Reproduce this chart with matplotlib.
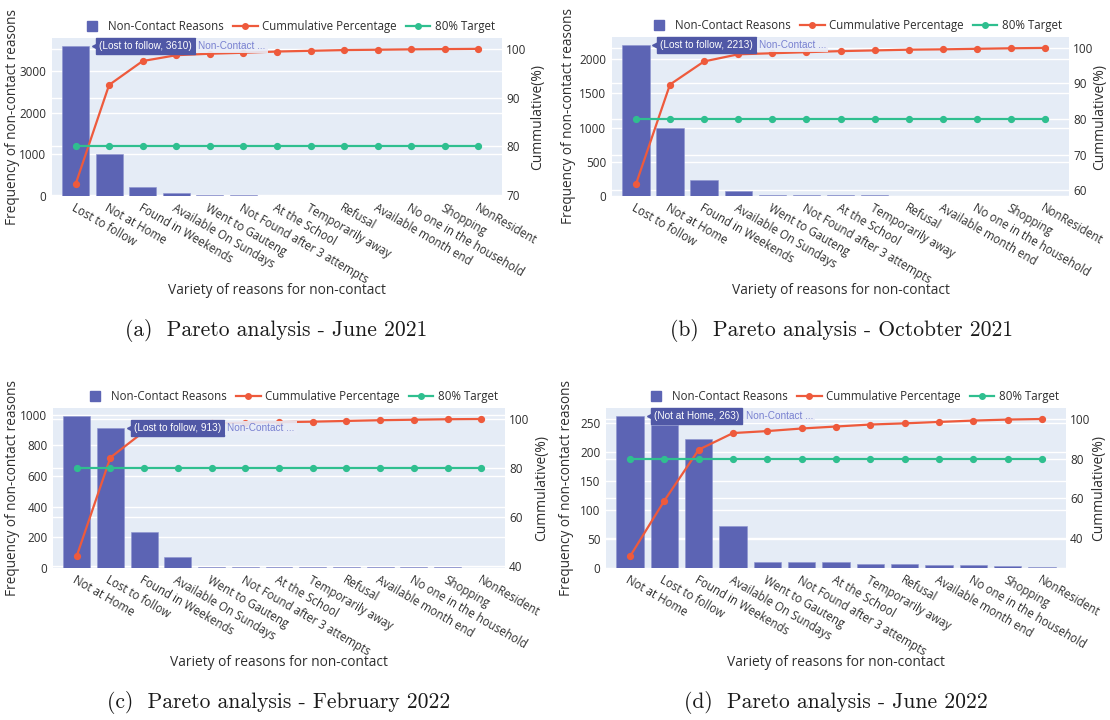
import matplotlib
matplotlib.use('Agg')
import matplotlib.pyplot as plt
import matplotlib.transforms as mtransforms
from matplotlib.lines import Line2D
from matplotlib.ticker import MultipleLocator

# categories (order as drawn on each x axis)
reasons_2021 = ['Lost to follow', 'Not at Home', 'Found in Weekends', 'Available On Sundays',
                'Went to Gauteng', 'Not Found after 3 attempts', 'At the School',
                'Temporarily away', 'Refusal', 'Available month end',
                'No one in the household', 'Shopping', 'NonResident']
reasons_2022 = ['Not at Home', 'Lost to follow', 'Found in Weekends', 'Available On Sundays',
                'Went to Gauteng', 'Not Found after 3 attempts', 'At the School',
                'Temporarily away', 'Refusal', 'Available month end',
                'No one in the household', 'Shopping', 'NonResident']

# non-contact counts
counts_jun21 = [3610, 1000, 225, 60, 15, 12, 10, 8, 6, 5, 4, 3, 2]
counts_oct21 = [2213, 1000, 234, 73, 14, 11, 10, 8, 7, 5, 5, 4, 3]
counts_feb22 = [995, 913, 235, 70, 8, 7, 6, 5, 6, 6, 5, 4, 2]
counts_jun22 = [263, 246, 223, 72, 11, 10, 10, 7, 7, 5, 5, 4, 1]

# cumulative percentage
cum_jun21 = [72.2, 92.6, 97.5, 98.7, 99.0, 99.2, 99.45, 99.6, 99.75, 99.82, 99.9, 99.95, 100]
cum_oct21 = [61.6, 89.7, 96.2, 98.2, 98.5, 98.8, 99.1, 99.3, 99.5, 99.6, 99.75, 99.9, 100]
cum_feb22 = [43.8, 84.2, 94.9, 97.9, 98.2, 98.5, 98.7, 98.9, 99.2, 99.5, 99.7, 99.9, 100]
cum_jun22 = [30.7, 58.8, 84.5, 92.9, 93.9, 95.2, 96.2, 97.2, 97.8, 98.5, 99.2, 99.7, 100]

target = 80

captions = ['(a)  Pareto analysis - June 2021', '(b)  Pareto analysis - Octobter 2021',
            '(c)  Pareto analysis - February 2022', '(d)  Pareto analysis - June 2022']
hover_index = [0, 0, 1, 0]

BAR = '#5c64b4'
RED = '#ee5a3c'
GREEN = '#2fbf8f'
BG = '#e5ecf6'
TXT = '#2e2e2e'
HOVER = '#5058a6'
NAME = '#7880d0'

plt.rcParams['font.family'] = ['Open Sans', 'DejaVu Sans']

W, H = 1110, 720
fig = plt.figure(figsize=(W / 100, H / 100), dpi=100)


def px_rect(x0, x1, y0, y1):
    return [x0 / W, 1 - y1 / H, (x1 - x0) / W, (y1 - y0) / H]


# layout in pixels: plot box, label x positions, caption position
layout = [
    dict(box=(52, 502, 38, 196), ylab=12.6, rlab=538, cap=(276, 331), lstep=1000, rstep=10),
    dict(box=(612, 1069, 37, 196), ylab=569, rlab=1100, cap=(842, 331), lstep=500, rstep=10),
    dict(box=(53, 505, 408, 568), ylab=12.6, rlab=542, cap=(279, 703), lstep=200, rstep=20),
    dict(box=(606, 1066, 408, 568), ylab=567, rlab=1099, cap=(836, 703), lstep=50, rstep=20),
]

series = [
    (reasons_2021, counts_jun21, cum_jun21),
    (reasons_2021, counts_oct21, cum_oct21),
    (reasons_2022, counts_feb22, cum_feb22),
    (reasons_2022, counts_jun22, cum_jun22),
]

for k, (cats, counts, cum) in enumerate(series):
    lay = layout[k]
    x0, x1, y0, y1 = lay['box']
    ax = fig.add_axes(px_rect(x0, x1, y0, y1))
    ax2 = ax.twinx()
    xs = list(range(len(cats)))

    ax.set_facecolor(BG)
    ax2.patch.set_visible(False)
    for a in (ax, ax2):
        for s in a.spines.values():
            s.set_visible(False)
        a.tick_params(length=0, labelsize=8.5, labelcolor=TXT)
    ax.grid(axis='y', color='white', linewidth=1.0)
    ax.set_axisbelow(True)

    ax.bar(xs, counts, width=0.8, color=BAR, edgecolor='#8e94cf', linewidth=0.4, zorder=2)
    ax.set_xlim(-0.7, len(cats) - 0.3)
    ax.set_ylim(0, max(counts) * 1.05)
    ax.yaxis.set_major_locator(MultipleLocator(lay['lstep']))

    ax2.plot(xs, cum, color=RED, lw=1.6, marker='o', ms=4.2, zorder=3)
    ax2.plot(xs, [target] * len(xs), color=GREEN, lw=1.6, marker='o', ms=4.2, zorder=3)
    lo, hi = min(cum), max(cum)
    span = hi - lo
    ax2.set_ylim(lo - 0.085 * span, hi + 0.08 * span)
    ax2.yaxis.set_major_locator(MultipleLocator(lay['rstep']))
    ax2.tick_params(axis='y', pad=3)
    ax.tick_params(axis='y', pad=4)

    # secondary-axis grid drawn under the bars
    gtr = mtransforms.blended_transform_factory(ax.transAxes, ax2.transData)
    for t in ax2.get_yticks():
        if ax2.get_ylim()[0] <= t <= ax2.get_ylim()[1]:
            ax.plot([0, 1], [t, t], transform=gtr, color='white', lw=1.0, zorder=1)

    ax.set_xticks(xs)
    ax.set_xticklabels(cats, rotation=-30, ha='left', va='top', rotation_mode='anchor', fontsize=8.3)
    ax.tick_params(axis='x', pad=4)

    ax.set_xlabel('Variety of reasons for non-contact', fontsize=9.9, color=TXT)
    ax.xaxis.label.set_va('center')
    ax.xaxis.set_label_coords(0.5, -95 / (y1 - y0))

    ax.set_ylabel('Frequency of non-contact reasons', fontsize=9.8, color=TXT)
    ax.yaxis.label.set_va('center')
    ax.yaxis.set_label_coords((lay['ylab'] - x0) / (x1 - x0), 0.5)
    ax2.set_ylabel('Cummulative(%)', fontsize=10, color=TXT)
    ax2.yaxis.label.set_va('center')
    ax2.yaxis.set_label_coords((lay['rlab'] - x0) / (x1 - x0), 0.5)

    # legend across the top
    handles = [
        Line2D([], [], ls='none', marker='s', ms=7, color=BAR),
        Line2D([], [], color=RED, lw=1.6, marker='o', ms=4),
        Line2D([], [], color=GREEN, lw=1.6, marker='o', ms=4),
    ]
    ax2.legend(handles, ['Non-Contact Reasons', 'Cummulative Percentage', '80% Target'],
               loc='center right', bbox_to_anchor=(1 - 7 / (x1 - x0), 1 + 11.3 / (y1 - y0)),
               ncol=3, frameon=False, fontsize=8.3, handlelength=2.1, handletextpad=0.4,
               columnspacing=0.8, borderaxespad=0, borderpad=0, labelcolor=TXT)

    # hover label on one bar
    i = hover_index[k]
    hx, hy = i + 0.4, counts[i]
    tip = mtransforms.offset_copy(ax.transData, fig=fig, x=5.6, y=0, units='points')
    ax2.plot([hx], [hy], marker='<', ms=6.5, color=HOVER, transform=tip, clip_on=False, zorder=10)
    lab = ax2.annotate(f'({cats[i]}, {counts[i]})', xy=(hx, hy), xycoords=ax.transData,
                       xytext=(7.4, 0), textcoords='offset points', ha='left', va='center',
                       color='white', fontsize=7.2, family='Liberation Sans',
                       bbox=dict(boxstyle='square,pad=0.3', fc=HOVER, ec=HOVER),
                       annotation_clip=False, zorder=11)
    ax2.annotate('Non-Contact ...', xy=(1, 0.5), xycoords=lab, xytext=(4.5, 0),
                 textcoords='offset points', ha='left', va='center', color=NAME,
                 fontsize=7.2, family='Liberation Sans',
                 bbox=dict(boxstyle='square,pad=0.2', fc='#e8ecf8', ec='none', alpha=0.9),
                 annotation_clip=False, zorder=11)

    cx, cy = lay['cap']
    fig.text(cx / W, 1 - cy / H, captions[k], ha='center', va='center',
             fontsize=15.5, family='cmr10', color='#1a1a1a')

fig.savefig('out.png', dpi=100)
